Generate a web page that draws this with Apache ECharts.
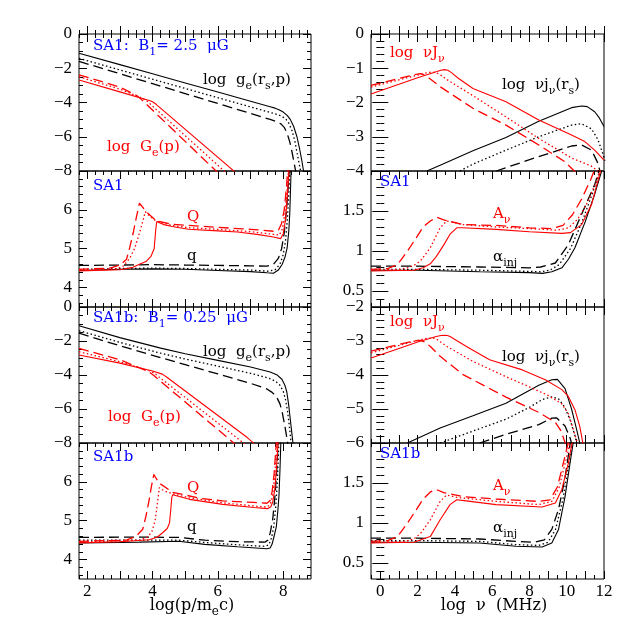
<!DOCTYPE html>
<html>
<head>
<meta charset="utf-8">
<script src="https://cdn.jsdelivr.net/npm/echarts@6/dist/echarts.min.js"></script>
<style>
  html, body { margin: 0; padding: 0; background: #fff; }
  #chart { width: 638px; height: 638px; }
</style>
</head>
<body>
<div id="chart"></div>
<script>
// ---- axis ranges and tick labels ----
const xRangeLeft = [1.75, 8.85];
const xRangeRight = [-0.5, 12];
const xLabelsLeft = [2, 4, 6, 8];
const xLabelsRight = [0, 2, 4, 6, 8, 10, 12];
const yLabelsG = [-8, -6, -4, -2, 0];
const yLabelsQ = [4, 5, 6];
const yLabelsJ1 = [-4, -3, -2, -1, 0];
const yLabelsJ2 = [-6, -5, -4, -3, -2];
const yLabelsA = [0.5, 1, 1.5];

// ---- SA1: log g_e(r_s,p) (black) and log G_e(p) (red) ----
const gSolidA = [[1.75,-1.12],[3,-1.79],[4,-2.32],[5,-2.86],[6,-3.39],[7,-3.93],[7.6,-4.25],[7.75,-4.33],[7.87,-4.42],[8.0,-4.56],[8.12,-4.75],[8.22,-5.0],[8.32,-5.4],[8.42,-6.0],[8.5,-6.7],[8.57,-7.4],[8.63,-8.1]];
const gDotA = [[1.75,-1.42],[3,-2.1],[4,-2.64],[5,-3.18],[6,-3.72],[7,-4.26],[7.6,-4.58],[7.8,-4.69],[7.95,-4.8],[8.07,-4.95],[8.17,-5.2],[8.27,-5.65],[8.35,-6.2],[8.42,-6.9],[8.48,-7.5],[8.54,-8.1]];
const gDashA = [[1.75,-1.6],[3,-2.32],[4,-2.9],[5,-3.48],[6,-4.06],[7,-4.64],[7.6,-4.99],[7.8,-5.12],[7.93,-5.25],[8.03,-5.45],[8.12,-5.8],[8.2,-6.3],[8.27,-6.9],[8.34,-7.6],[8.39,-8.1]];
const GSolidA = [[1.75,-2.69],[3,-3.38],[3.9,-3.88],[4.0,-3.96],[4.12,-4.12],[6.55,-8.1]];
const GDotA = [[1.75,-2.5],[3,-3.22],[3.7,-3.76],[3.82,-3.9],[6.25,-8.1]];
const GDashA = [[1.75,-2.38],[3,-3.1],[3.5,-3.58],[3.62,-3.75],[6.0,-8.1]];

// ---- SA1: Q (red) and q (black) ----
const qSolidB = [[1.75,4.44],[3,4.47],[4,4.48],[5,4.47],[6,4.44],[7,4.41],[7.5,4.38],[7.7,4.37],[7.85,4.45],[7.97,4.6],[8.06,4.8],[8.12,5.02],[8.17,5.45],[8.2,5.9],[8.24,7.0],[8.26,7.3]];
const qDotB = [[1.75,4.47],[3,4.49],[4,4.5],[5,4.49],[6,4.47],[7,4.45],[7.55,4.42],[7.75,4.46],[7.9,4.6],[8.0,4.85],[8.07,5.2],[8.13,5.8],[8.18,6.6],[8.22,7.3]];
const qDashB = [[1.75,4.57],[3,4.58],[4,4.59],[5,4.58],[6,4.57],[7,4.56],[7.5,4.55],[7.7,4.6],[7.85,4.75],[7.95,5.0],[8.03,5.4],[8.1,6.0],[8.16,6.7],[8.2,7.3]];
const QSolidB = [[1.75,4.43],[3,4.46],[3.4,4.52],[3.6,4.6],[3.8,4.67],[3.95,4.8],[4.05,5.0],[4.1,5.5],[4.13,5.7],[4.35,5.62],[4.6,5.57],[5.1,5.5],[6,5.46],[6.6,5.43],[7.2,5.37],[7.7,5.3],[7.92,5.26],[8.0,5.38],[8.07,5.75],[8.13,6.4],[8.2,7.3]];
const QDotB = [[1.75,4.45],[2.9,4.48],[3.1,4.55],[3.3,4.75],[3.45,5.0],[3.6,5.4],[3.7,5.7],[3.78,5.95],[3.9,5.85],[4.11,5.71],[4.6,5.6],[5.1,5.54],[6,5.5],[7,5.44],[7.7,5.37],[7.88,5.35],[7.97,5.5],[8.05,5.9],[8.12,6.5],[8.18,7.3]];
const QDashB = [[1.75,4.47],[2.7,4.5],[3.0,4.58],[3.2,4.72],[3.3,5.02],[3.42,5.45],[3.5,5.79],[3.6,6.17],[3.8,5.96],[4.11,5.72],[4.6,5.63],[6,5.55],[7,5.5],[7.7,5.45],[7.85,5.47],[7.95,5.65],[8.03,6.0],[8.1,6.6],[8.16,7.3]];

// ---- SA1b: log g_e(r_s,p) and log G_e(p) ----
const gSolidC = [[1.75,-1.1],[3,-1.8],[4.25,-2.42],[5,-2.75],[6,-3.14],[7,-3.53],[7.6,-3.82],[7.8,-3.98],[7.96,-4.25],[8.05,-4.6],[8.11,-5.0],[8.17,-5.8],[8.21,-6.5],[8.28,-7.7],[8.31,-8.2]];
const gDotC = [[1.75,-1.39],[3,-2.08],[4.25,-2.72],[5,-3.06],[6,-3.48],[7,-3.9],[7.55,-4.18],[7.76,-4.36],[7.9,-4.6],[8.0,-4.95],[8.07,-5.45],[8.13,-6.1],[8.18,-6.9],[8.23,-7.8],[8.26,-8.2]];
const gDashC = [[1.75,-1.54],[3,-2.28],[4.25,-2.98],[5,-3.39],[6,-3.94],[7,-4.49],[7.5,-4.82],[7.66,-5.02],[7.8,-5.3],[7.9,-5.7],[7.97,-6.2],[8.05,-7.0],[8.12,-7.8],[8.15,-8.2]];
const GSolidC = [[1.75,-2.82],[3,-3.3],[4.0,-3.77],[4.3,-3.95],[4.45,-4.15],[6.9,-7.68],[7.12,-8.05]];
const GDotC = [[1.75,-2.63],[3,-3.22],[3.9,-3.75],[4.05,-3.88],[4.2,-4.12],[6.85,-8.1]];
const GDashC = [[1.75,-2.44],[3,-3.1],[3.75,-3.7],[3.9,-3.82],[4.05,-4.05],[6.55,-8.1]];

// ---- SA1b: Q and q ----
const qSolidD = [[1.75,4.43],[3.6,4.45],[4.8,4.47],[5.6,4.39],[6.6,4.33],[7.5,4.28],[7.6,4.3],[7.66,4.4],[7.72,4.6],[7.79,4.85],[7.84,5.3],[7.87,5.65],[7.9,6.3],[7.93,7.1]];
const qDotD = [[1.75,4.5],[3.6,4.5],[4.8,4.5],[5.6,4.44],[6.6,4.38],[7.45,4.34],[7.56,4.38],[7.64,4.55],[7.71,4.85],[7.77,5.35],[7.82,6.0],[7.87,7.1]];
const qDashD = [[1.75,4.57],[3.6,4.58],[4.8,4.57],[5.6,4.5],[6.6,4.46],[7.45,4.45],[7.53,4.5],[7.6,4.68],[7.68,5.05],[7.75,5.65],[7.81,6.4],[7.85,7.1]];
const QSolidD = [[1.75,4.43],[3.0,4.46],[3.9,4.51],[4.15,4.58],[4.31,4.69],[4.45,4.8],[4.52,4.94],[4.56,5.3],[4.59,5.6],[4.62,5.67],[5.13,5.55],[6.15,5.42],[7.1,5.34],[7.52,5.31],[7.62,5.36],[7.68,5.48],[7.74,5.8],[7.79,6.32],[7.85,7.1]];
const QDotD = [[1.75,4.45],[3.6,4.5],[3.85,4.58],[3.98,4.72],[4.08,5.0],[4.15,5.45],[4.21,5.85],[4.35,5.77],[4.62,5.69],[5.13,5.59],[6.15,5.46],[7.1,5.38],[7.5,5.35],[7.6,5.42],[7.67,5.62],[7.73,6.1],[7.8,6.8],[7.83,7.1]];
const QDashD = [[1.75,4.47],[3.2,4.5],[3.5,4.6],[3.7,4.78],[3.8,5.12],[3.9,5.55],[3.96,5.85],[4.04,6.19],[4.2,5.97],[4.62,5.73],[5.5,5.57],[6.15,5.51],[7.1,5.47],[7.5,5.45],[7.6,5.52],[7.66,5.75],[7.72,6.2],[7.78,6.9],[7.8,7.1]];

// ---- SA1: log nuJ_nu (red) and log nu j_nu(r_s) (black) ----
const JSolidE = [[-0.5,-1.75],[1,-1.47],[2,-1.28],[3,-1.1],[3.25,-1.06],[3.45,-1.04],[3.62,-1.06],[3.8,-1.12],[4.2,-1.3],[4.97,-1.59],[6.74,-1.98],[8.5,-2.51],[10.26,-2.95],[10.97,-3.14],[11.5,-3.39],[12,-3.68]];
const JDotE = [[-0.5,-1.55],[1,-1.34],[2,-1.2],[2.5,-1.13],[2.8,-1.11],[3.0,-1.13],[3.21,-1.19],[3.6,-1.34],[4.97,-1.8],[6.74,-2.42],[8.5,-3.05],[10.26,-3.62],[11.3,-3.85],[11.8,-4.05]];
const JDashE = [[-0.5,-1.5],[1,-1.3],[1.8,-1.19],[2.15,-1.16],[2.4,-1.2],[2.7,-1.32],[3.21,-1.54],[4.97,-2.17],[6.74,-2.66],[8.5,-3.24],[9.9,-3.73],[10.5,-4.05]];
const jSolidE = [[2.5,-4],[3.21,-3.83],[5,-3.4],[6.74,-3.02],[8.5,-2.55],[10.26,-2.15],[10.8,-2.1],[11.1,-2.12],[11.5,-2.27],[11.75,-2.45],[12,-2.7]];
const jDotE = [[4.27,-4],[4.97,-3.8],[6.74,-3.39],[8.5,-3.0],[10.26,-2.66],[10.8,-2.62],[11.33,-2.77],[11.68,-3.09],[11.94,-3.5],[12.05,-3.7]];
const jDashE = [[6.21,-4],[8.5,-3.58],[10.26,-3.27],[10.8,-3.24],[11.33,-3.39],[11.68,-3.78],[11.8,-4.05]];

// ---- SA1: A_nu (red) and alpha_inj (black) ----
const ASolidF = [[-0.5,0.75],[1.8,0.76],[2.3,0.79],[2.68,0.84],[3.0,0.93],[3.39,1.07],[3.74,1.21],[4.1,1.29],[4.4,1.29],[6.21,1.27],[8,1.24],[9.74,1.22],[10.2,1.23],[10.8,1.33],[11.33,1.58],[11.77,1.96],[11.85,2.05]];
const ADotF = [[-0.5,0.76],[1.0,0.77],[1.45,0.79],[1.8,0.82],[2.15,0.875],[2.68,1.04],[3.21,1.29],[3.56,1.375],[3.9,1.36],[4.44,1.33],[6.21,1.3],[8,1.28],[9.5,1.26],[10.1,1.29],[10.6,1.4],[11.1,1.6],[11.5,1.82],[11.8,2.02]];
const ADashF = [[-0.5,0.77],[0.4,0.78],[0.92,0.83],[1.4,0.98],[1.8,1.12],[2.3,1.3],[2.68,1.375],[3.04,1.42],[3.4,1.39],[4.44,1.33],[6.21,1.32],[8,1.29],[9.2,1.28],[9.8,1.32],[10.3,1.45],[10.8,1.65],[11.3,1.9],[11.5,2.02]];
const aSolidF = [[-0.5,0.76],[2,0.76],[5.33,0.74],[8,0.73],[8.7,0.72],[9.2,0.74],[9.74,0.79],[10.1,0.9],[10.44,1.04],[11.0,1.37],[11.5,1.71],[11.9,2.02]];
const aDotF = [[-0.5,0.77],[2,0.77],[5.33,0.76],[8,0.745],[8.6,0.74],[9.1,0.76],[9.6,0.83],[10.2,1.03],[10.8,1.35],[11.35,1.7],[11.8,2.02]];
const aDashF = [[-0.5,0.81],[2,0.81],[5.33,0.8],[8,0.79],[8.6,0.8],[9.39,0.85],[10.09,1.08],[10.8,1.46],[11.5,1.83],[11.75,2.02]];

// ---- SA1b: log nuJ_nu and log nu j_nu(r_s) ----
const JSolidG = [[-0.5,-3.5],[1,-3.22],[2,-3.03],[3,-2.87],[3.25,-2.84],[3.45,-2.83],[3.6,-2.84],[3.74,-2.87],[4.62,-3.16],[5.86,-3.55],[7.62,-3.85],[8.85,-4.14],[9.74,-4.43],[10.09,-4.63],[10.44,-5.02],[10.7,-5.51],[10.88,-6.05]];
const JDotG = [[-0.5,-3.35],[1,-3.13],[2,-2.98],[2.5,-2.92],[2.8,-2.91],[3.0,-2.94],[3.21,-3.02],[3.6,-3.17],[4.97,-3.6],[6.74,-4.05],[8.0,-4.35],[9.0,-4.6],[9.74,-4.85],[10.1,-5.15],[10.35,-5.6],[10.6,-6.05]];
const JDashG = [[-0.5,-3.3],[1,-3.1],[1.8,-3.0],[2.15,-2.98],[2.4,-3.03],[2.7,-3.17],[3.21,-3.45],[4.44,-3.99],[6.74,-4.65],[8.5,-5.1],[9.4,-5.4],[9.7,-5.65],[9.95,-6.05]];
const jSolidG = [[1.45,-6],[3.21,-5.56],[4.97,-5.2],[6.74,-4.83],[8.5,-4.3],[9.2,-4.14],[9.5,-4.13],[9.91,-4.4],[10.26,-5.0],[10.53,-5.6],[10.72,-6.05]];
const jDotG = [[3.21,-6],[4.97,-5.65],[6.74,-5.3],[8.0,-4.95],[8.7,-4.72],[9.2,-4.64],[9.56,-4.7],[9.9,-4.95],[10.2,-5.35],[10.45,-5.8],[10.55,-6.05]];
const jDashG = [[5.33,-6],[7,-5.7],[8.5,-5.46],[9.2,-5.27],[9.45,-5.26],[9.91,-5.5],[10.18,-5.85],[10.28,-6.05]];

// ---- SA1b: A_nu and alpha_inj ----
const ASolidH = [[-0.5,0.75],[1.8,0.76],[2.68,0.83],[3.21,1.04],[3.74,1.23],[4.1,1.29],[4.5,1.28],[6.21,1.23],[8.68,1.2],[9.39,1.25],[9.74,1.42],[10.09,1.75],[10.3,2.02]];
const ADotH = [[-0.5,0.76],[1.3,0.77],[1.8,0.8],[2.2,0.88],[2.68,1.04],[3.21,1.27],[3.56,1.35],[4.1,1.32],[6.21,1.27],[8.5,1.23],[9.2,1.27],[9.6,1.45],[9.95,1.78],[10.2,2.02]];
const ADashH = [[-0.5,0.77],[0.4,0.78],[0.92,0.83],[1.4,0.98],[1.8,1.12],[2.3,1.3],[2.7,1.39],[2.99,1.42],[3.4,1.38],[4.44,1.33],[6.21,1.3],[8.5,1.27],[9.1,1.29],[9.5,1.45],[9.85,1.78],[10.1,2.02]];
const aSolidH = [[-0.5,0.76],[2,0.76],[5.33,0.75],[7.27,0.71],[8.68,0.7],[9.2,0.75],[9.56,0.92],[9.91,1.33],[10.18,1.75],[10.36,2.02]];
const aDotH = [[-0.5,0.78],[2,0.78],[5.33,0.77],[7.27,0.73],[8.5,0.72],[9.0,0.76],[9.4,0.92],[9.8,1.3],[10.1,1.72],[10.3,2.02]];
const aDashH = [[-0.5,0.81],[2,0.81],[5.33,0.8],[7.27,0.77],[8.3,0.76],[8.8,0.79],[9.2,0.92],[9.56,1.17],[9.9,1.55],[10.2,2.02]];

const FONT = '"Liberation Serif", serif';
const TFONT = '"DejaVu Serif", serif';
const RED = '#ff0000', BLACK = '#000000', BLUE = '#0000ff';

// panel layout: column lefts/widths, row tops/heights
const colLeft = [79, 371], colWidth = [232, 233];
const rowTop = [34, 171, 307, 443], rowHeight = [137, 136, 136, 136];

const panels = [
  { col: 0, row: 0, y: [-8, 0], yMinor: 0.5, yMajor: 2, yLabels: yLabelsG,
    lines: [[gSolidA, BLACK, 's'], [gDotA, BLACK, 'o'], [gDashA, BLACK, 'd'], [GSolidA, RED, 's'], [GDotA, RED, 'o'], [GDashA, RED, 'd']] },
  { col: 0, row: 1, y: [3.5, 7], yMinor: 0.2, yMajor: 1, yLabels: yLabelsQ,
    lines: [[qSolidB, BLACK, 's'], [qDotB, BLACK, 'o'], [qDashB, BLACK, 'd'], [QSolidB, RED, 's'], [QDotB, RED, 'o'], [QDashB, RED, 'd']] },
  { col: 0, row: 2, y: [-8, 0], yMinor: 0.5, yMajor: 2, yLabels: yLabelsG,
    lines: [[gSolidC, BLACK, 's'], [gDotC, BLACK, 'o'], [gDashC, BLACK, 'd'], [GSolidC, RED, 's'], [GDotC, RED, 'o'], [GDashC, RED, 'd']] },
  { col: 0, row: 3, y: [3.5, 7], yMinor: 0.2, yMajor: 1, yLabels: yLabelsQ,
    lines: [[qSolidD, BLACK, 's'], [qDotD, BLACK, 'o'], [qDashD, BLACK, 'd'], [QSolidD, RED, 's'], [QDotD, RED, 'o'], [QDashD, RED, 'd']] },
  { col: 1, row: 0, y: [-4, 0], yMinor: 0.2, yMajor: 1, yLabels: yLabelsJ1,
    lines: [[jSolidE, BLACK, 's'], [jDotE, BLACK, 'o'], [jDashE, BLACK, 'd'], [JSolidE, RED, 's'], [JDotE, RED, 'o'], [JDashE, RED, 'd']] },
  { col: 1, row: 1, y: [0.3, 2], yMinor: 0.1, yMajor: 0.5, yLabels: yLabelsA,
    lines: [[aSolidF, BLACK, 's'], [aDotF, BLACK, 'o'], [aDashF, BLACK, 'd'], [ASolidF, RED, 's'], [ADotF, RED, 'o'], [ADashF, RED, 'd']] },
  { col: 1, row: 2, y: [-6, -2], yMinor: 0.2, yMajor: 1, yLabels: yLabelsJ2,
    lines: [[jSolidG, BLACK, 's'], [jDotG, BLACK, 'o'], [jDashG, BLACK, 'd'], [JSolidG, RED, 's'], [JDotG, RED, 'o'], [JDashG, RED, 'd']] },
  { col: 1, row: 3, y: [0.3, 2], yMinor: 0.1, yMajor: 0.5, yLabels: yLabelsA,
    lines: [[aSolidH, BLACK, 's'], [aDotH, BLACK, 'o'], [aDashH, BLACK, 'd'], [ASolidH, RED, 's'], [ADotH, RED, 'o'], [ADashH, RED, 'd']] },
];

function ticks(range, step) {
  const out = [];
  const k0 = Math.ceil(range[0] / step - 1e-6), k1 = Math.floor(range[1] / step + 1e-6);
  for (let k = k0; k <= k1; k++) out.push(+(k * step).toFixed(4));
  return out;
}
const fmt = (v) => (v < 0 ? '\u2212' + Math.abs(v) : String(v));

function axis(gi, pos, range, tickVals, len, labels) {
  return {
    type: 'value', gridIndex: gi, position: pos, min: range[0], max: range[1],
    axisLine: { show: false }, splitLine: { show: false },
    axisTick: { show: true, inside: true, length: len, customValues: tickVals, lineStyle: { color: BLACK, width: 1 } },
    axisLabel: labels
      ? { show: true, customValues: labels, formatter: fmt, color: BLACK, fontSize: 17, fontFamily: FONT,
          margin: (pos === 'bottom' ? 4 : 7) }
      : { show: false },
  };
}

const dashType = { s: 'solid', o: [1.5, 2.5], d: [10, 5] };
const grids = [], xAxes = [], yAxes = [], series = [];

panels.forEach((p, gi) => {
  grids.push({ left: colLeft[p.col], top: rowTop[p.row], width: colWidth[p.col], height: rowHeight[p.row],
    show: true, borderColor: BLACK, borderWidth: 1, backgroundColor: 'transparent' });
  const xr = p.col ? xRangeRight : xRangeLeft;
  const xMinor = p.col ? 0.5 : 0.25;
  const xLabs = p.row === 3 ? (p.col ? xLabelsRight : xLabelsLeft) : null;
  const xi = xAxes.length, yi = yAxes.length;
  xAxes.push(axis(gi, 'bottom', xr, ticks(xr, xMinor), 4, xLabs));
  xAxes.push(axis(gi, 'bottom', xr, ticks(xr, 1), 8, null));
  xAxes.push(axis(gi, 'top', xr, ticks(xr, xMinor), 4, null));
  xAxes.push(axis(gi, 'top', xr, ticks(xr, 1), 8, null));
  yAxes.push(axis(gi, 'left', p.y, ticks(p.y, p.yMinor), 4, p.yLabels));
  yAxes.push(axis(gi, 'left', p.y, ticks(p.y, p.yMajor), 8, null));
  yAxes.push(axis(gi, 'right', p.y, ticks(p.y, p.yMinor), 4, null));
  yAxes.push(axis(gi, 'right', p.y, ticks(p.y, p.yMajor), 8, null));
  p.lines.forEach(([data, color, kind]) => {
    series.push({
      type: 'line', xAxisIndex: xi, yAxisIndex: yi, data: data,
      showSymbol: false, symbol: 'none', smooth: false, clip: true, silent: true,
      lineStyle: { color: color, width: kind === 's' ? 1.1 : 1.3, type: dashType[kind] },
    });
  });
});

// ---- annotations ----
function richStyle(color, size) {
  return {
    n: { fontSize: size, fontFamily: TFONT, fill: color, verticalAlign: 'top', lineHeight: size + 3 },
    s: { fontSize: size - 4, fontFamily: TFONT, fill: color, verticalAlign: 'top', lineHeight: size + 3, padding: [8, 0, 0, 0] },
  };
}
function label(x, y, text, color, align, size) {
  size = size || 15;
  return { type: 'text', x: x, y: y, silent: true, z: 10,
    style: { text: text, rich: richStyle(color, size), fill: color, fontSize: size, fontFamily: TFONT,
      verticalAlign: 'middle', align: align || 'left' } };
}
const gLabel = '{n|log  g}{s|e}{n|(r}{s|s}{n|,p)}';
const GLabel = '{n|log  G}{s|e}{n|(p)}';
const JLabel = '{n|log  \u03bdJ}{s|\u03bd}';
const jLabel = '{n|log  \u03bdj}{s|\u03bd}{n|(r}{s|s}{n|)}';
const texts = [
  label(93, 48, '{n|SA1:  B}{s|1}{n|= 2.5  \u03bcG}', BLUE),
  label(203, 82, gLabel, BLACK),
  label(107, 149, GLabel, RED),
  label(93, 188, '{n|SA1}', BLUE),
  label(187, 219, '{n|Q}', RED),
  label(187, 258, '{n|q}', BLACK),
  label(93, 320, '{n|SA1b:  B}{s|1}{n|= 0.25  \u03bcG}', BLUE),
  label(203, 354, gLabel, BLACK),
  label(108, 419, GLabel, RED),
  label(93, 459, '{n|SA1b}', BLUE),
  label(187, 490, '{n|Q}', RED),
  label(187, 529, '{n|q}', BLACK),
  label(390, 55, JLabel, RED),
  label(502, 87, jLabel, BLACK),
  label(380, 184, '{n|SA1}', BLUE),
  label(493, 216, '{n|A}{s|\u03bd}', RED),
  label(493, 259, '{n|\u03b1}{s|inj}', BLACK),
  label(390, 324, JLabel, RED),
  label(502, 359, jLabel, BLACK),
  label(380, 456, '{n|SA1b}', BLUE),
  label(493, 488, '{n|A}{s|\u03bd}', RED),
  label(493, 530, '{n|\u03b1}{s|inj}', BLACK),
  label(192, 607, '{n|log(p/m}{s|e}{n|c)}', BLACK, 'center', 16),
  label(494, 607, '{n|log  \u03bd  (MHz)}', BLACK, 'center', 16),
];

const chart = echarts.init(document.getElementById('chart'), null, { renderer: 'canvas' });
chart.setOption({
  animation: false,
  backgroundColor: '#fff',
  grid: grids,
  xAxis: xAxes,
  yAxis: yAxes,
  series: series,
  graphic: texts,
});
</script>
</body>
</html>
